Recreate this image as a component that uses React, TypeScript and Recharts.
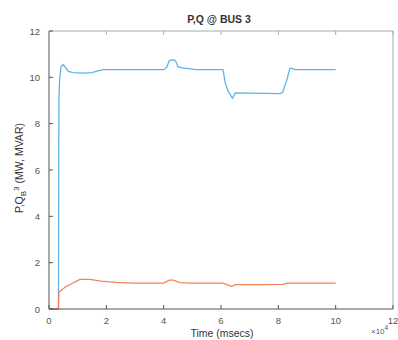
import React from 'react';
import { LineChart, Line, XAxis, YAxis } from 'recharts';

// time in msecs, values in MW / MVAR
const pTime = [0, 3200, 3300, 3450, 3700, 4200, 5000, 5800, 6700, 8500, 12000, 15000, 17000, 19000, 22000, 40000, 41000, 42000, 43500, 44200, 45000, 47000, 49000, 51000, 60700, 61500, 62500, 64000, 65000, 70000, 80700, 81500, 83000, 84000, 84500, 86000, 100000];
const pValue = [0, 0, 0, 9.0, 9.9, 10.45, 10.55, 10.42, 10.26, 10.2, 10.18, 10.2, 10.28, 10.33, 10.33, 10.33, 10.42, 10.73, 10.75, 10.7, 10.45, 10.4, 10.38, 10.33, 10.33, 9.75, 9.4, 9.1, 9.33, 9.32, 9.3, 9.35, 9.9, 10.38, 10.4, 10.33, 10.33];

const qTime = [0, 3200, 3300, 3450, 5700, 10800, 14300, 18000, 23600, 29000, 40000, 41000, 42000, 43300, 45700, 50000, 60800, 62000, 63800, 65000, 75000, 81700, 83000, 100000];
const qValue = [0, 0, 0, 0.73, 0.95, 1.28, 1.28, 1.2, 1.15, 1.12, 1.12, 1.18, 1.25, 1.25, 1.14, 1.12, 1.12, 1.05, 0.98, 1.05, 1.05, 1.06, 1.12, 1.12];

const xTicks = [0, 20000, 40000, 60000, 80000, 100000, 120000];
const yTicks = [0, 2, 4, 6, 8, 10, 12];

const pData = pTime.map((t, i) => ({ t, v: pValue[i] }));
const qData = qTime.map((t, i) => ({ t, v: qValue[i] }));

const FONT = '"Liberation Sans", Arial, sans-serif';

// ticks point inward, MATLAB style
const BottomTick = (props: any) => {
  const { x, y, payload } = props;
  return (
    <g>
      <line x1={x} x2={x} y1={y - 6} y2={y - 10} stroke="#555" />
      <text x={x} y={y + 8.5} textAnchor="middle" fontFamily={FONT} fontSize={9.5} fill="#555">
        {String(payload.value / 10000)}
      </text>
    </g>
  );
};

const TopTick = (props: any) => {
  const { x, y } = props;
  return <line x1={x} x2={x} y1={y + 6} y2={y + 10} stroke="#aaa" />;
};

const LeftTick = (props: any) => {
  const { x, y, payload } = props;
  return (
    <g>
      <line x1={x + 6} x2={x + 10} y1={y} y2={y} stroke="#555" />
      <text x={x - 3} y={y + 3.5} textAnchor="end" fontFamily={FONT} fontSize={9.5} fill="#555">
        {payload.value}
      </text>
    </g>
  );
};

const RightTick = (props: any) => {
  const { x, y } = props;
  return <line x1={x - 6} x2={x - 10} y1={y} y2={y} stroke="#aaa" />;
};

const YLabel = () => (
  <text transform="translate(23,168) rotate(-90)" textAnchor="middle" fontFamily={FONT} fontSize={10.5} fill="#333">
    P,Q<tspan fontSize={8} dy={3}>B</tspan><tspan fontSize={8} dy={-7}>3</tspan><tspan dy={4}> (MW, MVAR)</tspan>
  </text>
);

export default function App() {
  return (
    <div style={{ position: 'absolute', left: 0, top: 0, width: 398, height: 340, background: '#fff' }}>
      <LineChart width={398} height={340} data={pData} margin={{ top: 30, right: 4, bottom: 1, left: 0 }}>
        <XAxis
          xAxisId="bottom"
          dataKey="t"
          type="number"
          domain={[0, 120000]}
          ticks={xTicks}
          tick={<BottomTick />}
          tickLine={false}
          tickSize={0}
          tickMargin={6}
          height={30}
          stroke="#555"
          interval={0}
        />
        <XAxis
          xAxisId="top"
          orientation="top"
          dataKey="t"
          type="number"
          domain={[0, 120000]}
          ticks={xTicks}
          tick={<TopTick />}
          tickLine={false}
          tickSize={0}
          tickMargin={6}
          height={1}
          stroke="#aaa"
          interval={0}
        />
        <YAxis
          yAxisId="left"
          type="number"
          domain={[0, 12]}
          ticks={yTicks}
          tick={<LeftTick />}
          tickLine={false}
          tickSize={0}
          tickMargin={6}
          width={49}
          stroke="#555"
          interval={0}
          label={{ content: () => <YLabel /> }}
        />
        <YAxis
          yAxisId="right"
          orientation="right"
          type="number"
          domain={[0, 12]}
          ticks={yTicks}
          tick={<RightTick />}
          tickLine={false}
          tickSize={0}
          tickMargin={6}
          width={1}
          stroke="#aaa"
          interval={0}
        />
        <Line xAxisId="bottom" yAxisId="left" data={pData} dataKey="v" type="linear" stroke="#5bb5ea" strokeWidth={1.3} dot={false} isAnimationActive={false} />
        <Line xAxisId="bottom" yAxisId="left" data={qData} dataKey="v" type="linear" stroke="#f2845c" strokeWidth={1.3} dot={false} isAnimationActive={false} />
        <text x={219} y={23} textAnchor="middle" fontFamily={FONT} fontSize={10.5} fontWeight="bold" fill="#333">P,Q @ BUS 3</text>
        <text x={222} y={337} textAnchor="middle" fontFamily={FONT} fontSize={10.5} fill="#333">Time (msecs)</text>
        <text x={371} y={334} fontFamily={FONT} fontSize={8} fill="#555">
          ×10<tspan fontSize={6.5} dy={-4}>4</tspan>
        </text>
      </LineChart>
    </div>
  );
}
